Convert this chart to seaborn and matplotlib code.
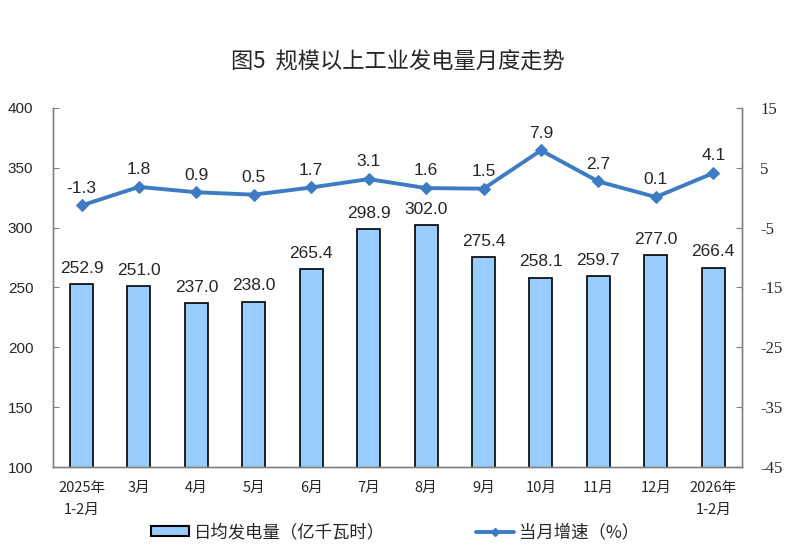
"""
Monthly power generation chart: daily average output (bars) and YoY growth (line)
"""
import matplotlib
matplotlib.use('Agg')
import matplotlib.pyplot as plt
import seaborn as sns
import numpy as np
import pandas as pd
from matplotlib.patches import Patch
from matplotlib.lines import Line2D

months = ['2025年\n1-2月', '3月', '4月', '5月', '6月', '7月', '8月',
          '9月', '10月', '11月', '12月', '2026年\n1-2月']
daily_output = [252.9, 251.0, 237.0, 238.0, 265.4, 298.9, 302.0,
                275.4, 258.1, 259.7, 277.0, 266.4]
growth = [-1.3, 1.8, 0.9, 0.5, 1.7, 3.1, 1.6, 1.5, 7.9, 2.7, 0.1, 4.1]
left_ticks = [100, 150, 200, 250, 300, 350, 400]
right_ticks = [-45, -35, -25, -15, -5, 5, 15]

sns.set_style('white')
plt.rcParams['font.family'] = ['Noto Sans CJK SC', 'DejaVu Sans']

BAR_COLOR = '#99CCFF'
LINE_COLOR = '#3D7CC4'
SPINE_COLOR = '#808080'

df = pd.DataFrame({'month': months, 'output': daily_output,
                   'growth': growth, 'pos': np.arange(len(months))})

fig = plt.figure(figsize=(8, 5.56), dpi=100)
ax = fig.add_axes([0.066, 0.160, 0.8615, 0.646])

sns.barplot(data=df, x='month', y='output', color=BAR_COLOR, width=0.4,
            edgecolor='black', linewidth=1.2, saturation=1, ax=ax)
ax.set_ylim(100, 400)
ax.set_xlim(-0.5, len(months) - 0.5)
ax.set_yticks(left_ticks)
ax.set_yticklabels([str(t) for t in left_ticks], family='Liberation Sans', fontsize=11)
ax.set_xlabel('')
ax.set_ylabel('')

# x ticks sit between categories, labels centred on bars
ax.set_xticks(np.arange(len(months) + 1) - 0.5, minor=False)
ax.set_xticklabels([])
ax.set_xticks(np.arange(len(months)), minor=True)
ax.set_xticklabels(months, minor=True, fontsize=10.5, linespacing=1.7)
ax.tick_params(axis='x', which='major', direction='in', length=4, color=SPINE_COLOR)
ax.tick_params(axis='x', which='minor', length=0, pad=10)
ax.tick_params(axis='y', direction='in', length=4, color=SPINE_COLOR, pad=14)

for p, v in zip(ax.patches, daily_output):
    ax.annotate(f'{v:.1f}', (p.get_x() + p.get_width() / 2, v),
                xytext=(0, 6), textcoords='offset points',
                ha='center', va='bottom', fontsize=12.5, family='Liberation Sans')

ax2 = ax.twinx()
sns.lineplot(data=df, x='pos', y='growth', color=LINE_COLOR, linewidth=2.8,
             marker='D', markersize=6, markeredgecolor=LINE_COLOR, ax=ax2)
ax2.set_ylim(-45, 15)
ax2.set_yticks(right_ticks)
ax2.set_yticklabels([str(t) for t in right_ticks], family='Liberation Serif', fontsize=12)
ax2.set_xlabel('')
ax2.set_ylabel('')
ax2.tick_params(axis='y', direction='in', length=4, color=SPINE_COLOR, pad=13)

for x, v in zip(df['pos'], growth):
    ax2.annotate(f'{v:.1f}', (x, v), xytext=(0, 7), textcoords='offset points',
                 ha='center', va='bottom', fontsize=12.5, family='Liberation Sans')

for a in (ax, ax2):
    a.spines['top'].set_visible(False)
    for s in ('left', 'right', 'bottom'):
        a.spines[s].set_color(SPINE_COLOR)
        a.spines[s].set_linewidth(1)

fig.text(0.497, 0.888, '图5  规模以上工业发电量月度走势', ha='center', va='center',
         fontsize=16, fontweight='medium')

handles = [Patch(facecolor=BAR_COLOR, edgecolor='black', linewidth=1.5),
           Line2D([0], [0], color=LINE_COLOR, linewidth=2.8, marker='D',
                  markersize=4)]
fig.legend(handles, ['日均发电量（亿千瓦时）', '当月增速（%）'],
           loc='center', bbox_to_anchor=(0.494, 0.043), ncol=2, frameon=False,
           fontsize=12.5, handlelength=2.2, handleheight=0.5,
           columnspacing=5.2, handletextpad=0.3)

fig.savefig('out.png', dpi=100)
